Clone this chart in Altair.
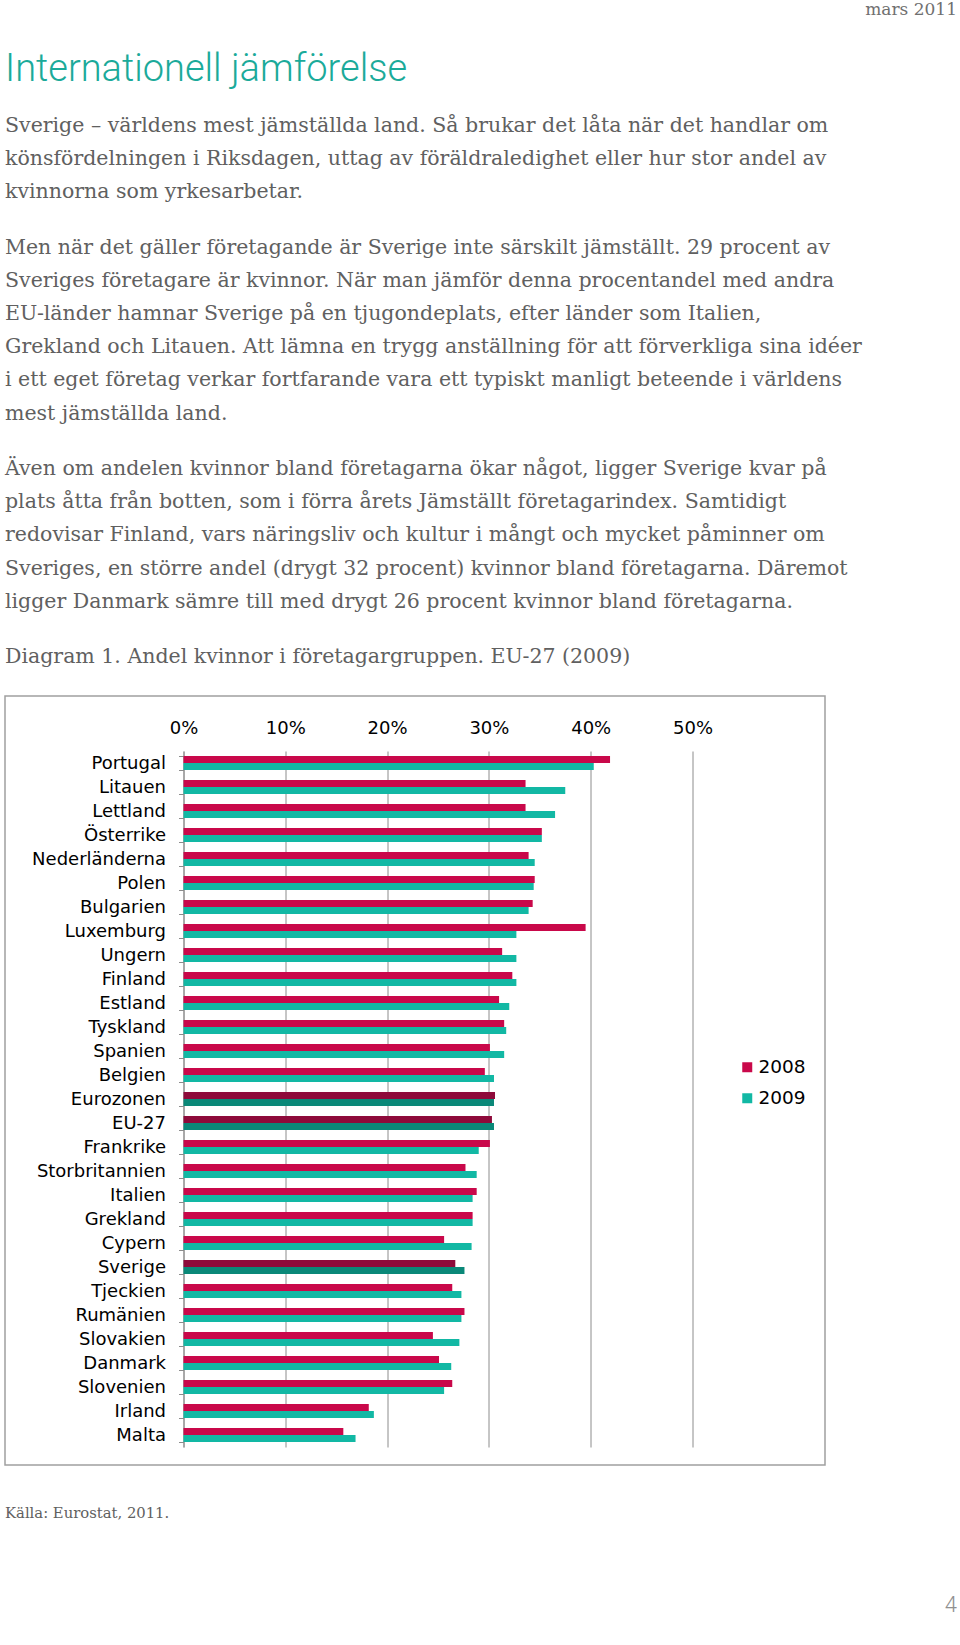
import altair as alt
import pandas as pd

countries = ["Portugal", "Litauen", "Lettland", "Österrike", "Nederländerna", "Polen",
             "Bulgarien", "Luxemburg", "Ungern", "Finland", "Estland", "Tyskland",
             "Spanien", "Belgien", "Eurozonen", "EU-27", "Frankrike", "Storbritannien",
             "Italien", "Grekland", "Cypern", "Sverige", "Tjeckien", "Rumänien",
             "Slovakien", "Danmark", "Slovenien", "Irland", "Malta"]
v2008 = [41.9, 33.6, 33.6, 35.2, 33.9, 34.5, 34.3, 39.5, 31.3, 32.3, 31.0, 31.5,
         30.1, 29.6, 30.6, 30.3, 30.1, 27.7, 28.8, 28.4, 25.6, 26.7, 26.4, 27.6,
         24.5, 25.1, 26.4, 18.2, 15.7]
v2009 = [40.3, 37.5, 36.5, 35.2, 34.5, 34.4, 33.9, 32.7, 32.7, 32.7, 32.0, 31.7,
         31.5, 30.5, 30.5, 30.5, 29.0, 28.8, 28.4, 28.4, 28.3, 27.6, 27.3, 27.3,
         27.1, 26.3, 25.6, 18.7, 16.9]
highlighted = ["Eurozonen", "EU-27", "Sverige"]
years = ["2008", "2009"]
x_ticks = [0, 10, 20, 30, 40, 50]

header_date = "mars 2011"
page_title = "Internationell jämförelse"
para1 = ["Sverige – världens mest jämställda land. Så brukar det låta när det handlar om",
         "könsfördelningen i Riksdagen, uttag av föräldraledighet eller hur stor andel av",
         "kvinnorna som yrkesarbetar."]
para2 = ["Men när det gäller företagande är Sverige inte särskilt jämställt. 29 procent av",
         "Sveriges företagare är kvinnor. När man jämför denna procentandel med andra",
         "EU-länder hamnar Sverige på en tjugondeplats, efter länder som Italien,",
         "Grekland och Litauen. Att lämna en trygg anställning för att förverkliga sina idéer",
         "i ett eget företag verkar fortfarande vara ett typiskt manligt beteende i världens",
         "mest jämställda land."]
para3 = ["Även om andelen kvinnor bland företagarna ökar något, ligger Sverige kvar på",
         "plats åtta från botten, som i förra årets Jämställt företagarindex. Samtidigt",
         "redovisar Finland, vars näringsliv och kultur i mångt och mycket påminner om",
         "Sveriges, en större andel (drygt 32 procent) kvinnor bland företagarna. Däremot",
         "ligger Danmark sämre till med drygt 26 procent kvinnor bland företagarna."]
caption = "Diagram 1. Andel kvinnor i företagargruppen. EU-27 (2009)"
source = "Källa: Eurostat, 2011."
page_no = "4"

rows = []
for c, a, b in zip(countries, v2008, v2009):
    h = "h" if c in highlighted else ""
    rows.append({"country": c, "year": "2008", "value": a, "key": "2008" + h})
    rows.append({"country": c, "year": "2009", "value": b, "key": "2009" + h})
df = pd.DataFrame(rows)

# layout (page pixels)
X0, Y0 = 183.5, 751.0
PW, PH = 509.0, 696.0
W, H = 960, 1645

SERIF = "DejaVu Serif"
SANS = "DejaVu Sans"
TXT = "#606060"

bars = alt.Chart(df).mark_bar().encode(
    x=alt.X("value:Q", scale=alt.Scale(domain=[0, 50], nice=False),
            axis=alt.Axis(orient="top", values=x_ticks, labelExpr="datum.value + '%'",
                          title=None, ticks=False, domain=False, grid=True, labelFlush=False,
                          gridColor="#8c8c8c", gridWidth=1, labelFont=SANS,
                          labelFontSize=18, labelColor="#000000", labelPadding=14)),
    y=alt.Y("country:N", sort=countries,
            scale=alt.Scale(paddingInner=0.42, paddingOuter=0.21),
            axis=alt.Axis(title=None, tickBand="extent", tickSize=5, tickColor="#8c8c8c",
                          domainColor="#8c8c8c", labelFont=SANS, labelFontSize=18,
                          labelColor="#000000", labelPadding=13)),
    yOffset=alt.YOffset("year:N", sort=years),
    color=alt.Color("key:N",
                    scale=alt.Scale(domain=["2008", "2009", "2008h", "2009h"],
                                    range=["#C9084A", "#12B8A4", "#8E0A3A", "#0A8878"]),
                    legend=alt.Legend(values=years, title=None, orient="none",
                                      legendX=738 - X0, legendY=1058 - Y0, padding=0,
                                      symbolType="square", symbolSize=100,
                                      symbolStrokeWidth=0, labelFont=SANS,
                                      labelFontSize=18.5, labelColor="#000000",
                                      labelOffset=2, rowPadding=12)),
)

one = alt.Data(values=[{}])

border = alt.Chart(one).mark_rect(fillOpacity=0, stroke="#a0a0a0", strokeWidth=1.5).encode(
    x=alt.value(5 - X0), x2=alt.value(825 - X0), y=alt.value(696 - Y0), y2=alt.value(1465 - Y0))


def text_layer(txt, x, y, font, size, color, align="left", lh=33.2, weight="normal"):
    return alt.Chart(one).mark_text(text=txt, font=font, fontSize=size, color=color,
                                    align=align, baseline="middle", lineHeight=lh,
                                    fontWeight=weight).encode(
        x=alt.value(x - X0), y=alt.value(y - Y0))


texts = [
    text_layer(header_date, 957, 10, SERIF, 17, "#707070", align="right"),
    text_layer(page_title, 5, 70, "Roboto", 38, "#1BAA9A", weight=300),
    text_layer(para1, 5, 126, SERIF, 20.5, TXT),
    text_layer(para2, 5, 247.7, SERIF, 20.5, TXT),
    text_layer(para3, 5, 469, SERIF, 20.5, TXT),
    text_layer(caption, 5, 657.3, SERIF, 20.5, TXT),
    text_layer(source, 5, 1514, SERIF, 14.8, TXT),
    text_layer(page_no, 957, 1605, "Roboto", 22, "#909090", align="right", weight=300),
]

chart = alt.layer(border, bars, *texts).properties(
    width=PW, height=PH,
    padding={"left": X0, "top": Y0, "right": W - X0 - PW, "bottom": H - Y0 - PH},
    autosize=alt.AutoSizeParams(type="none"),
    background="white",
).configure_view(strokeWidth=0)

chart.save("out.html", embed_options={"renderer": "svg", "actions": False})
